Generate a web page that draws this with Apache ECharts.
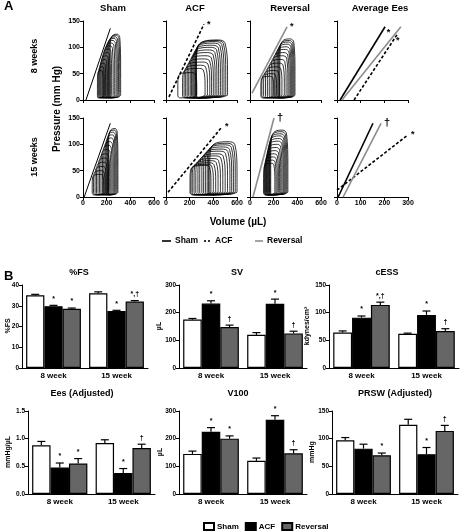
<!DOCTYPE html>
<html><head><meta charset="utf-8">
<script src="https://cdn.jsdelivr.net/npm/echarts@6/dist/echarts.min.js"></script>
<style>html,body{margin:0;padding:0;background:#fff}#c{width:460px;height:532px}</style>
</head><body><div id="c"></div>
<script>
// ================= Panel A data (PV loops: per-loop EDV, ESV, peak pressure) =================
const shamEdv8  = [318,310,300,290,280,268,255,242,230,218,205,192,180,170];
const shamEsv8  = [228,220,212,203,194,185,176,168,160,152,145,138,130,122];
const shamPmax8 = [125,123,120,117,113,108,103,97,90,84,77,70,63,56];
const acfEdv8   = [520,505,490,475,460,445,430,415,400,385,370,350,330,260];
const acfEsv8   = [257,254,250,243,235,226,216,205,192,179,166,153,140,100];
const acfPmax8  = [114,113,111,108,104,100,95,90,84,78,72,66,60,52];
const revEdv8   = [380,372,364,356,348,340,330,320,305,290,270,250,225,200];
const revEsv8   = [252,245,238,229,218,206,193,179,163,147,131,115,100,92];
const revPmax8  = [116,113,110,106,101,96,90,84,77,70,63,56,50,45];
const shamEdv15 = [295,288,280,272,264,255,245,235,225,215,205,195,185,175];
const shamEsv15 = [215,210,204,196,187,176,165,152,140,127,114,102,89,78];
const shamPmax15= [130,127,123,118,112,105,98,90,82,74,66,58,50,43];
const acfEdv15  = [600,585,570,555,540,520,500,480,460,440,420,400,380];
const acfEsv15  = [370,359,348,333,318,303,285,270,252,237,222,211,203];
const acfPmax15 = [105,102,99,95,91,87,82,78,73,69,65,62,60];
const revEdv15  = [320,312,304,296,288,280,270,260,250,240,230,220,210];
const revEsv15  = [175,170,165,160,155,150,145,140,135,130,125,120,115];
const revPmax15 = [127,124,120,116,111,106,100,94,88,82,76,70,64];

// ESPVR lines [V, P] (start, end) and significance marks
const shamLine8 = [[25,0],[231,136]];
const acfLine8  = [[25,6],[321,144]];
const revLine8  = [[17,13],[313,139]];
const shamLine15= [[10,0],[231,140]];
const acfLine15 = [[17,9],[473,133]];
const revLine15 = [[25,0],[203,150]];
const eesSham8  = [[13,0],[203,139]];
const eesAcf8   = [[72,0],[258,127]];
const eesRev8   = [[21,0],[270,139]];
const eesSham15 = [[5,0],[152,140]];
const eesAcf15  = [[0,13],[300,118]];
const eesRev15  = [[26,0],[186,140]];

// ================= Panel B data =================
const groups = ['8 week','15 week'];
const groupNames = ['Sham','ACF','Reversal'];
// rows: Sham, ACF, Reversal ; columns: 8 week, 15 week
const fsMean   = [[35,36],[29.8,27.5],[28.5,32]];
const fsErr    = [[0.5,0.7],[0.4,0.3],[0.4,0.5]];
const fsMark   = [['',''],['*','*'],['*','*,†']];
const svMean   = [[175,120],[233,232],[148,125]];
const svErr    = [[4,8],[10,17],[7,8]];
const svMark   = [['',''],['*','*'],['†','†']];
const cessMean = [[64,62],[91,96],[114,67]];
const cessErr  = [[3,1],[3,7],[5,4]];
const cessMark = [['',''],['*','*'],['*,†','†']];
const eesMean  = [[0.88,0.92],[0.48,0.38],[0.55,0.83]];
const eesErr   = [[0.07,0.06],[0.08,0.08],[0.09,0.07]];
const eesMark  = [['',''],['*','*'],['*','†']];
const v100Mean = [[145,120],[225,268],[200,147]];
const v100Err  = [[10,10],[15,15],[10,13]];
const v100Mark = [['',''],['*','*'],['*','†']];
const prswMean = [[97,125],[82,72],[70,114]];
const prswErr  = [[5,10],[8,12],[4,10]];
const prswMark = [['',''],['','*'],['*','†']];

// ================= build =================
const FONT = 'Liberation Sans, Arial, sans-serif';
const BLACK = '#000';
const GREY_LINE = '#8c8c8c';
const GREY_BAR = '#666';
const grids=[], xAxes=[], yAxes=[], series=[], graphics=[];

function txt(x,y,s,size,opt){
  opt=opt||{};
  graphics.push({type:'text', x:x, y:y, rotation:opt.rot||0, z:20,
    style:{text:s, fill:'#000', font:'bold '+size+'px '+FONT, textAlign:opt.align||'center', textVerticalAlign:'middle'}});
}

function loopPath(edv, esv, pmax){
  const sv = edv-esv, pmin=4;
  return [[edv,pmin+5],[edv,pmin+0.45*(pmax-pmin)],[edv-0.08*sv,pmax*0.95],[edv-0.3*sv,pmax],
          [esv+0.25*sv,pmax*0.98],[esv+0.04*sv,pmax*0.88],[esv,pmax*0.55],[esv,pmin+4],
          [esv+0.12*sv,pmin],[edv-0.2*sv,pmin+1.5],[edv,pmin+5]];
}

const pvCols=[83,166,250,337], pvTops=[21,118];
const pvPanels = [
  [{edv:shamEdv8,esv:shamEsv8,pmax:shamPmax8,lines:[{d:shamLine8,s:'sham',w:1}]},
   {edv:acfEdv8,esv:acfEsv8,pmax:acfPmax8,lines:[{d:acfLine8,s:'acf',m:'*'}]},
   {edv:revEdv8,esv:revEsv8,pmax:revPmax8,lines:[{d:revLine8,s:'rev',m:'*'}]},
   {lines:[{d:eesSham8,s:'sham'},{d:eesAcf8,s:'acf',m:'*',pos:[-2,3]},{d:eesRev8,s:'rev',m:'*',pos:[-14,1]}]}],
  [{edv:shamEdv15,esv:shamEsv15,pmax:shamPmax15,lines:[{d:shamLine15,s:'sham',w:1}]},
   {edv:acfEdv15,esv:acfEsv15,pmax:acfPmax15,lines:[{d:acfLine15,s:'acf',m:'*'}]},
   {edv:revEdv15,esv:revEsv15,pmax:revPmax15,lines:[{d:revLine15,s:'rev',m:'†'}]},
   {lines:[{d:eesSham15,s:'sham'},{d:eesAcf15,s:'acf',m:'*'},{d:eesRev15,s:'rev',m:'†'}]}]
];
const lineStyles = {
  sham:{color:BLACK,width:1.6,type:'solid'},
  acf:{color:BLACK,width:1.6,type:[3,2]},
  rev:{color:GREY_LINE,width:1.6,type:'solid'}
};
const axisCommon = {
  axisLine:{show:true,onZero:false,lineStyle:{color:BLACK,width:1}},
  axisTick:{show:true,length:3,lineStyle:{color:BLACK,width:1}},
  splitLine:{show:false}
};
for(let r=0;r<2;r++){
  for(let c=0;c<4;c++){
    const gi=grids.length;
    grids.push({left:pvCols[c],top:pvTops[r],width:71,height:79});
    xAxes.push(Object.assign({gridIndex:gi,type:'value',min:0,max:c===3?300:600,interval:c===3?100:200,
      axisLabel:{show:r===1,fontSize:7,fontWeight:'bold',color:BLACK,margin:3,fontFamily:FONT}},axisCommon));
    yAxes.push(Object.assign({gridIndex:gi,type:'value',min:0,max:150,interval:50,
      axisLabel:{show:c===0,fontSize:7,fontWeight:'bold',color:BLACK,margin:3,fontFamily:FONT}},axisCommon));
    const p=pvPanels[r][c];
    if(p.edv){
      for(let i=0;i<p.edv.length;i++){
        series.push({type:'line',xAxisIndex:gi,yAxisIndex:gi,data:loopPath(p.edv[i],p.esv[i],p.pmax[i]),
          smooth:0.35,symbol:'none',silent:true,lineStyle:{color:BLACK,width:0.8},z:2});
      }
    }
    p.lines.forEach(L=>{
      const ls=Object.assign({},lineStyles[L.s]); if(L.w) ls.width=L.w;
      const d=[{value:L.d[0],label:{show:false}},{value:L.d[1],label:{show:!!L.m,formatter:L.m||'',position:L.pos||'right',distance:3,
        fontSize:L.m==='†'?11:9,fontWeight:'bold',color:BLACK,fontFamily:FONT}}];
      series.push({type:'line',xAxisIndex:gi,yAxisIndex:gi,data:d,symbol:'circle',showSymbol:true,symbolSize:0.1,
        itemStyle:{color:'rgba(0,0,0,0)'},silent:true,lineStyle:ls,z:4,clip:false});
    });
  }
}
// Panel A texts
txt(4,6,'A',13,{align:'left'});
txt(113,8,'Sham',9.5); txt(195,8,'ACF',9.5); txt(290,8,'Reversal',9.5); txt(380,8,'Average Ees',9.5);
txt(35,56,'8 weeks',9,{rot:Math.PI/2}); txt(35,157,'15 weeks',9,{rot:Math.PI/2});
txt(57,109,'Pressure (mm Hg)',10,{rot:Math.PI/2});
txt(238,222,'Volume (\u00b5L)',10);
// Panel A legend
graphics.push({type:'line',shape:{x1:162,y1:241,x2:171,y2:241},style:{stroke:BLACK,lineWidth:1.6}});
txt(175,241,'Sham',8.5,{align:'left'});
graphics.push({type:'line',shape:{x1:204,y1:241,x2:212,y2:241},style:{stroke:BLACK,lineWidth:1.6,lineDash:[2,2]}});
txt(215,241,'ACF',8.5,{align:'left'});
graphics.push({type:'line',shape:{x1:255,y1:241,x2:263,y2:241},style:{stroke:GREY_LINE,lineWidth:1.6}});
txt(267,241,'Reversal',8.5,{align:'left'});

// Panel B
txt(4,276,'B',13,{align:'left'});
const barDefs = [
  {t:'%FS',tx:79,ty:273,u:'%FS',ux:8,mean:fsMean,err:fsErr,mark:fsMark,max:40,iv:10,left:22,top:285,w:126,dec:0},
  {t:'SV',tx:237,ty:273,u:'\u00b5L',ux:159,mean:svMean,err:svErr,mark:svMark,max:300,iv:100,left:179,top:285,w:128,dec:0},
  {t:'cESS',tx:387,ty:273,u:'kdynes/cm\u00b2',ux:307,mean:cessMean,err:cessErr,mark:cessMark,max:150,iv:50,left:329,top:285,w:130,dec:0},
  {t:'Ees (Adjusted)',tx:82,ty:394,u:'mmHg/\u00b5L',ux:8,mean:eesMean,err:eesErr,mark:eesMark,max:1.5,iv:0.5,left:28,top:411,w:127,dec:1},
  {t:'V100',tx:238,ty:394,u:'\u00b5L',ux:160,mean:v100Mean,err:v100Err,mark:v100Mark,max:300,iv:100,left:179,top:411,w:128,dec:0},
  {t:'PRSW (Adjusted)',tx:395,ty:394,u:'mmHg',ux:312,mean:prswMean,err:prswErr,mark:prswMark,max:150,iv:50,left:332,top:411,w:126,dec:0}
];
const GAP = 0.13;
const barColors = ['#fff', BLACK, GREY_BAR];
barDefs.forEach(b=>{
  const gi=grids.length;
  grids.push({left:b.left,top:b.top,width:b.w,height:83});
  xAxes.push({gridIndex:gi,type:'category',data:groups,
    axisLine:{show:true,lineStyle:{color:BLACK,width:1}},axisTick:{show:false},
    axisLabel:{fontSize:8,fontWeight:'bold',color:BLACK,margin:4,fontFamily:FONT}});
  yAxes.push(Object.assign({gridIndex:gi,type:'value',min:0,max:b.max,interval:b.iv,
    axisLabel:{fontSize:6.5,fontWeight:'bold',color:BLACK,margin:3,fontFamily:FONT,
      formatter:v=>v.toFixed(b.dec)}},axisCommon));
  txt(b.tx,b.ty,b.t,9);
  txt(b.ux,b.top+41,b.u,7,{rot:Math.PI/2});
  for(let s=0;s<3;s++){
    series.push({type:'bar',name:groupNames[s],xAxisIndex:gi,yAxisIndex:gi,data:b.mean[s],
      barGap:'0%',barCategoryGap:(GAP*100)+'%',
      itemStyle:{color:barColors[s],borderColor:BLACK,borderWidth:1.2},z:3,silent:true});
  }
  const errData=[], marks=[];
  for(let s=0;s<3;s++) for(let k=0;k<2;k++){ errData.push([k,b.mean[s][k],b.err[s][k],s]); marks.push(b.mark[s][k]); }
  series.push({type:'custom',xAxisIndex:gi,yAxisIndex:gi,silent:true,z:6,data:errData,
    renderItem:(params,api)=>{
      const k=api.value(0), m=api.value(1), e=api.value(2), s=api.value(3);
      const base=api.coord([k,m]), top=api.coord([k,m+e]);
      const band=api.size([1,0])[0];
      const bw=band*(1-GAP)/3;
      const x=base[0]+(s-1)*bw;
      const ch=[
        {type:'line',shape:{x1:x,y1:base[1],x2:x,y2:top[1]},style:{stroke:BLACK,lineWidth:1.2}},
        {type:'line',shape:{x1:x-4,y1:top[1],x2:x+4,y2:top[1]},style:{stroke:BLACK,lineWidth:1.2}}
      ];
      const mk=marks[params.dataIndex];
      if(mk) ch.push({type:'text',x:x,y:top[1]-3,style:{text:mk,fill:BLACK,font:'bold 7px '+FONT,textAlign:'center',textVerticalAlign:'bottom'}});
      return {type:'group',children:ch};
    }});
});

const chart = echarts.init(document.getElementById('c'),null,{renderer:'canvas'});
chart.setOption({
  animation:false,
  backgroundColor:'#fff',
  textStyle:{fontFamily:FONT},
  grid:grids, xAxis:xAxes, yAxis:yAxes, series:series, graphic:graphics,
  legend:{data:groupNames,left:198,top:517,itemWidth:10,itemHeight:7,itemGap:6,icon:'rect',
    textStyle:{fontSize:8,fontWeight:'bold',color:BLACK,fontFamily:FONT,padding:[0,0,0,-2]}}
});
</script></body></html>
